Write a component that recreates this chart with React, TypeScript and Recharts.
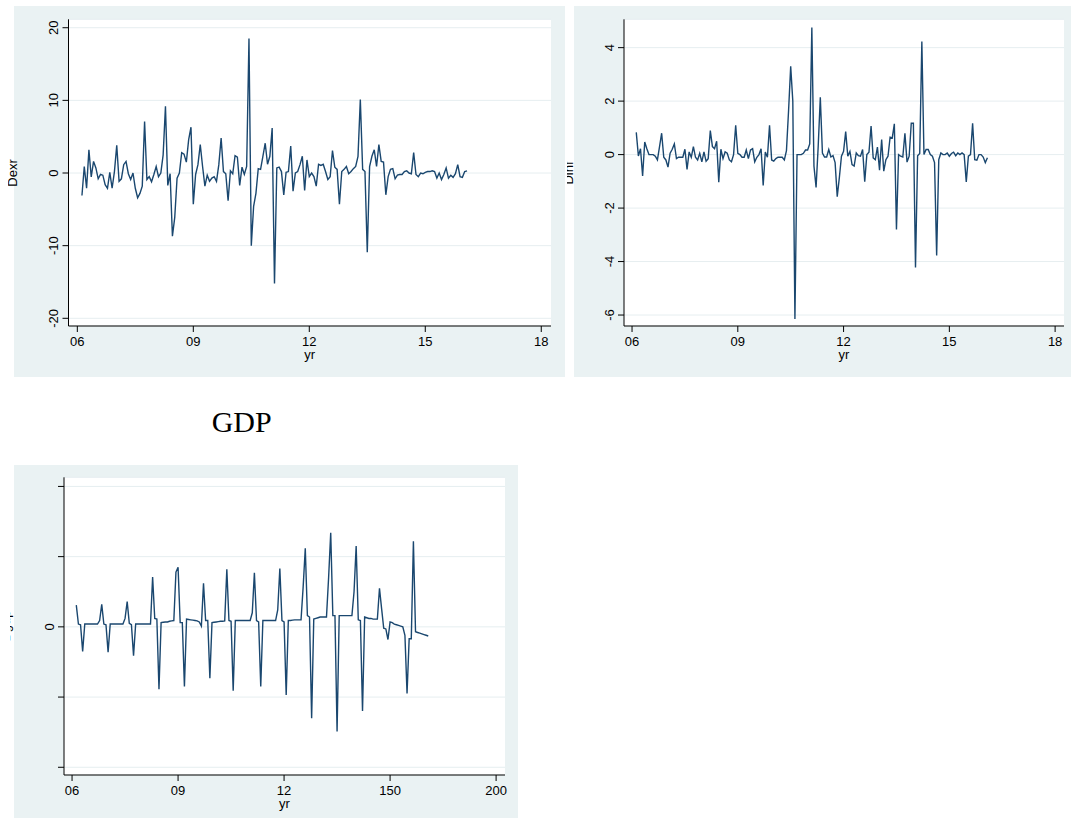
import React from 'react';
import { LineChart, Line, XAxis, YAxis, CartesianGrid, Label } from 'recharts';

// time index of the first observation (x axis is a period index 0..200)
const START_PERIOD = 2;

// D.exr (panel 1)
const dexr = [
  -3.1, 0.9, -2.1, 3.2, -0.55, 1.6, 0.7, -0.8, -0.2, -0.3,
  -1.6, -2.1, 0.1, -2.1, 0.2, 3.8, -1.15, -0.8, 1.15, 1.6,
  -0.1, -0.9, 0, -2.1, -3.4, -2.8, -1.8, 7.1, -0.9, -0.5,
  -1.2, -0.2, 0.9, -0.5, 0, 2.5, 9.2, -1.7, -0.1, -8.7,
  -6.1, -0.7, 0, 2.8, 2.6, 1.5, 4.6, 6.3, -4.3, -0.2,
  1.15, 3.9, 0.9, -1.8, -0.3, -1.15, -0.7, -0.5, -1.15, 1.15,
  4.8, 0.2, -0.1, -3.8, 0.3, -0.1, 2.4, 2.2, -1.7, 0.8,
  -0.2, 0.9, 18.5, -10, -4.6, -2.8, 0.6, 0.5, 2.3, 4.1,
  1.2, 2.3, 6.2, -15.2,
  0.7, 0.8, 0.2, -3.0, 0.1, 0.2, 3.7, -2.5, 0, 0.2,
  1.15, 2.3, -2.4, 1.8, -0.5, 0, -0.5, -1.8, 1.2, 1.05,
  1.2, 0.2, -0.9, -0.5, 3.1, 0.8, 0.5, -4.3, 0.2, 0.5,
  0.9, -0.1, 0.2, 0.6, 0.9, 2.3, 10.1, 0.5, 0.2, -10.9,
  0.9, 2.3, 3.2, 0.9, 3.9, 1.6, 1.5, -3.0, -0.5, 0.5,
  0.6, -0.8, -0.3, -0.2, -0.2, 0.2, 0.3, 0, -0.1, 2.8,
  -0.2, -0.5, 0, -0.1, 0.1, 0.2, 0.2, 0.3, 0.2, -0.7,
  0, -0.9, -0.2, 0.7, -0.7, -0.3, -0.6, -0.1, 1.15, -0.5,
  -0.6, 0.2, 0.3,
];

// D.inf (panel 2)
const dinf = [
  0.83, -0.05, 0.22, -0.8, 0.47, 0.22, 0, 0, 0, -0.06,
  -0.2, 0.3, 0.8, -0.1, -0.2, -0.47, 0.05, 0.2, 0.4, -0.15,
  -0.1, -0.1, -0.1, 0.2, -0.55, 0.1, -0.1, 0.3, -0.1, -0.2,
  0.05, -0.27, 0.1, -0.25, -0.15, 0.9, 0.3, 0.22, 0.5, -1.03,
  0.2, -0.15, 0.1, 0.05, -0.2, -0.27, 0, 1.1, 0.05, 0,
  -0.1, -0.1, 0.17, -0.15, 0.17, 0.22, -0.27, -0.1, 0, 0.22,
  -1.15, 0.1, -0.1, 1.1, -0.2, -0.24, -0.15, -0.1, -0.1, -0.1,
  -0.2, 0.15, 1.65, 3.3, 2.0, -6.15, 0, 0, 0, 0.05,
  0.17, 0.17, 0.4, 4.75,
  -0.43, -1.23, 0.3, 2.14, 0.06, -0.09, -0.09, 0.19, -0.09, -0.04,
  -0.3, -1.57, -0.86, -0.06, 0.12, 0.86, -0.06, 0.12, -0.37, -0.43,
  0.06, -0.04, -0.06, 0.19, -1.01, 0, 0.09, 1.07, -0.12, -0.19,
  0.28, -0.58, 0.56, -0.62, -0.19, -0.06, 0.65, 0.62, 1.15, -2.8,
  0, -0.06, -0.09, 0.8, -0.28, -0.06, 1.17, 1.17, -4.22, -0.04,
  0.04, 4.23, 0, 0.19, 0.19, 0, -0.06, -0.3, -3.77, -0.19,
  0.06, 0, 0, 0.06, -0.06, 0.04, 0.09, -0.04, 0.06, 0,
  0.06, 0, -1.02, -0.06, 0, 1.17, -0.19, -0.21, 0, 0,
  -0.09, -0.3, -0.12,
];

// D.gdp (panel 3)
const dgdp = [
  0.31, 0.04, 0.03, -0.35, 0.04, 0.04, 0.04, 0.04, 0.04, 0.04,
  0.04, 0.09, 0.32, 0.04, 0.03, -0.36, 0.04, 0.04, 0.04, 0.04,
  0.04, 0.04, 0.04, 0.12, 0.36, 0.05, 0.03, -0.41, 0.04, 0.04,
  0.04, 0.04, 0.04, 0.04, 0.04, 0.04, 0.71, 0.12, 0.11, -0.89,
  0.06, 0.065, 0.07, 0.07, 0.08, 0.085, 0.09, 0.78, 0.85, 0.06,
  0.06, -0.85, 0.11, 0.105, 0.1, 0.095, 0.09, 0.085, 0.07, 0.01,
  0.62, 0.09, 0.09, -0.73, 0.06, 0.065, 0.07, 0.075, 0.08, 0.08,
  0.085, 0.82, 0.09, 0.08, -0.91, 0.09, 0.09, 0.09, 0.09, 0.09,
  0.09, 0.09, 0.09, 0.2, 0.77, 0.09, 0.07, -0.85, 0.09, 0.09,
  0.09, 0.09, 0.09, 0.09, 0.09, 0.24, 0.83, 0.09, 0.07, -0.97,
  0.09, 0.09, 0.095, 0.1, 0.1, 0.1, 0.1, 0.57, 1.12, 0.16,
  0.14, -1.3, 0.11, 0.12, 0.13, 0.14, 0.14, 0.14, 0.14, 0.7,
  1.34, 0.16, 0.16, -1.49, 0.16, 0.16, 0.16, 0.16, 0.16, 0.16,
  0.16, 0.5, 1.15, 0.1, 0.09, -1.2, 0.14, 0.13, 0.12, 0.12,
  0.11, 0.11, 0.11, 0.55, 0.26, -0.02, -0.03, -0.18, 0.07, 0.06,
  0.04, 0.03, 0.02, 0.01, 0, -0.12, -0.95, -0.17, -0.17, 1.22,
  -0.07, -0.08, -0.09, -0.1, -0.11, -0.12, -0.13,
];

const xTicks = [0, 50, 100, 150, 200];
const xLabelsTop = ['06', '09', '12', '15', '18'];
const xLabelsBottom = ['06', '09', '12', '150', '200'];
const dexrTicks = [-20, -10, 0, 10, 20];
const dinfTicks = [-6, -4, -2, 0, 2, 4];
const dgdpTicks = [-2, -1, 0, 1, 2];
const dgdpTickLabels = ['', '', '0', '', ''];

const FONT = "'Liberation Sans', Arial, Helvetica, sans-serif";
const SERIF = "'Liberation Serif', 'Times New Roman', serif";
const BG = '#eaf2f3';
const GRID = '#e6eef0';
const NAVY = '#1a476f';
const X_DOMAIN: [number, number] = [-3.8, 204.2];

const rows = (values: number[]) => values.map((v, i) => ({ t: START_PERIOD + i, v }));

const makeYTick = (fmt: (v: number) => string) => (props: any) => {
  const { x, y, payload } = props;
  return (
    <text
      x={x}
      y={y}
      transform={`rotate(-90 ${x} ${y})`}
      textAnchor="middle"
      fontSize={13}
      fontFamily={FONT}
      fill="#000"
    >
      {fmt(payload.value)}
    </text>
  );
};

type PanelProps = {
  left: number;
  top: number;
  width: number;
  height: number;
  yWidth: number;
  xHeight: number;
  mTop: number;
  mRight: number;
  values: number[];
  yDomain: [number, number];
  yTicks: number[];
  yFmt: (v: number) => string;
  xLabels: string[];
  titleOffset: number;
};

const Panel = (p: PanelProps) => (
  <div
    style={{
      position: 'absolute',
      left: p.left,
      top: p.top,
      width: p.width,
      height: p.height,
      background: BG,
    }}
  >
    <LineChart
      width={p.width}
      height={p.height}
      data={rows(p.values)}
      margin={{ top: p.mTop, right: p.mRight, bottom: 0, left: 0 }}
    >
      <CartesianGrid vertical={false} horizontal stroke={GRID} fill="#ffffff" />
      <XAxis
        type="number"
        dataKey="t"
        domain={X_DOMAIN}
        ticks={xTicks}
        interval={0}
        allowDataOverflow
        height={p.xHeight}
        tickSize={6}
        tickMargin={5}
        tickFormatter={(v: number) => p.xLabels[xTicks.indexOf(v)] ?? ''}
        tick={{ fontSize: 13, fill: '#000', fontFamily: FONT }}
        stroke="#000"
        axisLine={{ stroke: '#000' }}
        tickLine={{ stroke: '#000' }}
      >
        <Label
          value="yr"
          position="insideTop"
          offset={p.titleOffset}
          style={{ fontSize: 13, fill: '#000', fontFamily: FONT }}
        />
      </XAxis>
      <YAxis
        type="number"
        domain={p.yDomain}
        ticks={p.yTicks}
        interval={0}
        allowDataOverflow
        width={p.yWidth}
        tickSize={6}
        tickMargin={4}
        tick={makeYTick(p.yFmt)}
        stroke="#000"
        axisLine={{ stroke: '#000' }}
        tickLine={{ stroke: '#000' }}
      />
      <Line
        type="linear"
        dataKey="v"
        stroke={NAVY}
        strokeWidth={1.4}
        dot={false}
        activeDot={false}
        isAnimationActive={false}
      />
    </LineChart>
  </div>
);

export default function App() {
  return (
    <div
      style={{
        position: 'absolute',
        left: 0,
        top: 0,
        width: 1071,
        height: 821,
        background: '#ffffff',
        overflow: 'hidden',
      }}
    >
      <Panel
        left={14}
        top={6}
        width={551}
        height={371}
        yWidth={54.5}
        xHeight={51}
        mTop={13.3}
        mRight={14}
        values={dexr}
        yDomain={[-21.06, 21.16]}
        yTicks={dexrTicks}
        yFmt={(v) => String(v)}
        xLabels={xLabelsTop}
        titleOffset={24}
      />
      <Panel
        left={574}
        top={6}
        width={497}
        height={371}
        yWidth={50}
        xHeight={51}
        mTop={13.3}
        mRight={7}
        values={dinf}
        yDomain={[-6.41, 5.06]}
        yTicks={dinfTicks}
        yFmt={(v) => String(v)}
        xLabels={xLabelsTop}
        titleOffset={24}
      />
      <Panel
        left={14}
        top={465}
        width={504}
        height={353}
        yWidth={50}
        xHeight={43}
        mTop={12.3}
        mRight={13}
        values={dgdp}
        yDomain={[-2.11, 2.13]}
        yTicks={dgdpTicks}
        yFmt={(v) => dgdpTickLabels[dgdpTicks.indexOf(v)] ?? ''}
        xLabels={xLabelsBottom}
        titleOffset={24}
      />
      <svg
        width={1071}
        height={821}
        style={{ position: 'absolute', left: 0, top: 0, pointerEvents: 'none' }}
      >
        <defs>
          <clipPath id="clipDexr">
            <rect x={8} y={120} width={20} height={110} />
          </clipPath>
          <clipPath id="clipDinf">
            <rect x={567} y={120} width={20} height={110} />
          </clipPath>
          <clipPath id="clipDgdp">
            <rect x={10} y={570} width={10} height={110} />
          </clipPath>
        </defs>
        <g clipPath="url(#clipDexr)">
          <text x={17} y={173} transform="rotate(-90 17 173)" textAnchor="middle" fontSize={13} fontFamily={FONT} fill="#000">
            Dexr
          </text>
        </g>
        <g clipPath="url(#clipDinf)">
          <text x={573} y={173} transform="rotate(-90 573 173)" textAnchor="middle" fontSize={13} fontFamily={FONT} fill="#000">
            Dinf
          </text>
        </g>
        <g clipPath="url(#clipDgdp)">
          <text x={10} y={626} transform="rotate(-90 10 626)" textAnchor="middle" fontSize={13} fontFamily={FONT} fill="#000">
            Dgdp
          </text>
        </g>
        <text x={211.7} y={432} fontSize={30} fontFamily={SERIF} fill="#000">
          GDP
        </text>
      </svg>
    </div>
  );
}
